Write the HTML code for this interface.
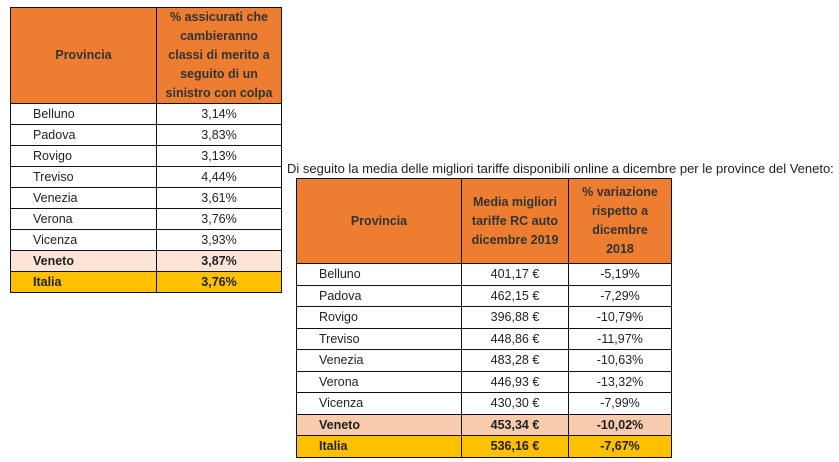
<!DOCTYPE html>
<html><head><meta charset="utf-8"><style>
body{margin:0;width:839px;height:462px;background:#fff;position:relative;font-family:"Liberation Sans",sans-serif;font-size:12.5px;color:#222;overflow:hidden}
.c{position:absolute;box-sizing:border-box;display:flex;align-items:center;border:1px solid #111;margin:0}
.h{background:#ED7D31;font-weight:bold;color:#333;justify-content:center;text-align:center;line-height:19px;white-space:nowrap}
.l{padding-left:22px}
.r{justify-content:center}
.b{font-weight:bold}
</style></head><body>
<div id="t1"></div>
<div id="t2"></div>
<div style="position:absolute;left:287px;top:161px;font-size:13px;color:#222;white-space:nowrap">Di seguito la media delle migliori tariffe disponibili online a dicembre per le province del Veneto:</div>
<script>
function tbl(cols,top,hh,rowh,head,rows,colors,el){
 let h='';
 for(let i=0;i<head.length;i++){
  h+=`<div class="c h" style="left:${cols[i]}px;top:${top}px;width:${cols[i+1]-cols[i]+1}px;height:${hh+1}px">${head[i]}</div>`;
 }
 rows.forEach((r,j)=>{
  const y=top+hh+j*rowh;
  const bg=colors[j]||'#fff';
  const bold=colors[j]?' b':'';
  r.forEach((v,i)=>{
   h+=`<div class="c ${i==0?'l':'r'}${bold}" style="left:${cols[i]}px;top:${y}px;width:${cols[i+1]-cols[i]+1}px;height:${rowh+1}px;background:${bg}">${v}</div>`;
  });
 });
 document.getElementById(el).innerHTML=h;
}
tbl([10,156,281],7,96,21,['Provincia','% assicurati che<br>cambieranno<br>classi di merito a<br>seguito di un<br>sinistro con colpa'],
[['Belluno','3,14%'],['Padova','3,83%'],['Rovigo','3,13%'],['Treviso','4,44%'],['Venezia','3,61%'],['Verona','3,76%'],['Vicenza','3,93%'],['Veneto','3,87%'],['Italia','3,76%']],
{7:'#FCE4D6',8:'#FFC000'},'t1');
tbl([296,461,568,671],178,85,21.5,['Provincia','Media migliori<br>tariffe RC auto<br>dicembre 2019','% variazione<br>rispetto a<br>dicembre<br>2018'],
[['Belluno','401,17 €','-5,19%'],['Padova','462,15 €','-7,29%'],['Rovigo','396,88 €','-10,79%'],['Treviso','448,86 €','-11,97%'],['Venezia','483,28 €','-10,63%'],['Verona','446,93 €','-13,32%'],['Vicenza','430,30 €','-7,99%'],['Veneto','453,34 €','-10,02%'],['Italia','536,16 €','-7,67%']],
{7:'#F8CBAD',8:'#FFC000'},'t2');
</script>
</body></html>
